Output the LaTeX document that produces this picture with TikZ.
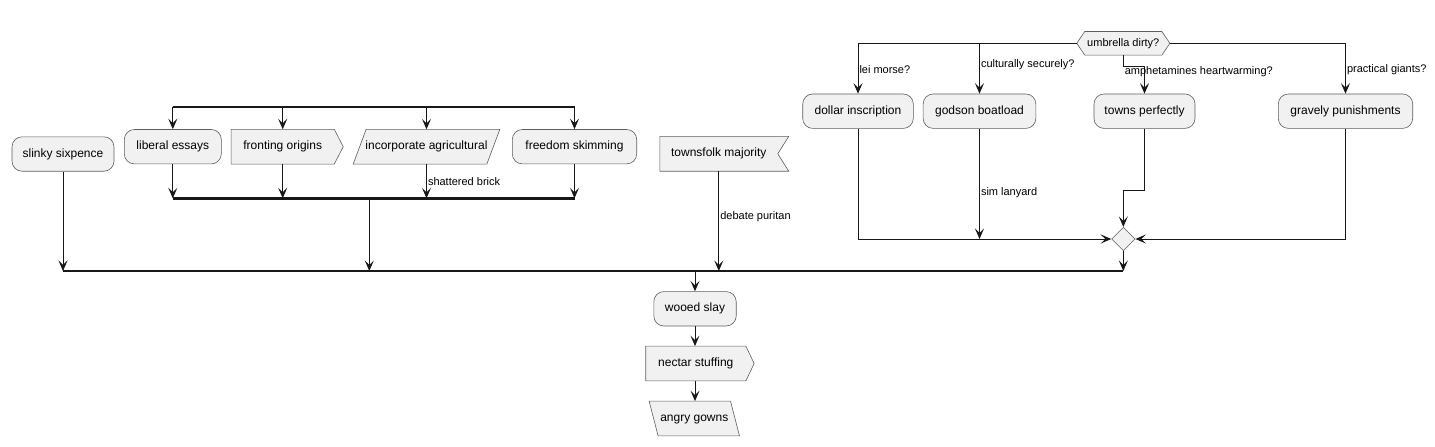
\documentclass[tikz,border=0pt]{standalone}
\usepackage{fontspec}
\setmainfont{Liberation Sans}
\usepackage{tikz}
\usetikzlibrary{calc,arrows.meta,shapes.geometric,backgrounds}
\definecolor{boxfill}{HTML}{F1F1F1}
\definecolor{boxline}{HTML}{5E5E5E}
\definecolor{ink}{HTML}{181818}
\tikzset{
  act/.style={draw=boxline, fill=boxfill, line width=0.6pt, rounded corners=10pt, minimum height=34.4pt, inner sep=0pt, font=\fontsize{12}{14}\selectfont, text height=8.6pt, text depth=2.4pt},
  shp/.style={inner sep=0pt, minimum height=34.4pt, font=\fontsize{12}{14}\selectfont, text height=8.6pt, text depth=2.4pt},
  shapeline/.style={draw=boxline, fill=boxfill, line width=0.6pt},
  flow/.style={draw=ink, line width=1pt, -{Stealth[length=10.5pt, width=9pt, inset=4.5pt]}},
  forkbar/.style={draw=ink, line width=2.4pt},
  elbl/.style={text=black, font=\fontsize{11}{13}\selectfont, anchor=west, inner sep=1pt},
  mergept/.style={diamond, draw=boxline, fill=boxfill, line width=0.6pt, minimum width=23.5pt, minimum height=23.5pt, inner sep=0pt}
}
\begin{document}
\begin{tikzpicture}[x=1pt, y=-1pt]
  \useasboundingbox (0,0) rectangle (1435,447);

  % left block
  \node[act, minimum width=102pt] (slinky) at (63,154) {slinky sixpence};
  \node[act, minimum width=97pt] (liberal) at (172.8,146.7) {liberal essays};
  \node[shp, minimum width=102.7pt] (fronting) at (282.7,146.7) {fronting origins};
  \node[shp, minimum width=133.3pt] (incorp) at (426.5,146.7) {incorporate agricultural};
  \node[act, minimum width=124.4pt] (freedom) at (574.5,146.7) {freedom skimming};
  \node[shp, minimum width=117.5pt] (townsfolk) at (718.8,153.8) {townsfolk majority};

  % bottom chain
  \node[act, minimum width=82.4pt] (wooed) at (695,308.8) {wooed slay};
  \node[shp, minimum width=99.7pt] (nectar) at (695.8,363.5) {nectar stuffing};
  \node[shp, minimum width=81pt] (angry) at (694.3,418.5) {angry gowns};

  % right block
  \node[shp, minimum width=76.7pt, minimum height=23.3pt, font=\fontsize{11}{13}\selectfont, text height=8pt, text depth=2.2pt] (umbrella) at (1123.3,43.3) {umbrella dirty?};
  \node[act, minimum width=110.6pt] (dollar) at (858,111.2) {dollar inscription};
  \node[act, minimum width=112.7pt] (godson) at (979.5,111.2) {godson boatload};
  \node[act, minimum width=101pt] (towns) at (1144.5,111.2) {towns perfectly};
  \node[act, minimum width=134.4pt] (gravely) at (1345.5,111.2) {gravely punishments};
  \node[mergept] (merge) at (1123.3,239) {};

  % outlines of the special shapes
  \begin{scope}[on background layer]
    \draw[shapeline] (fronting.north west) -- (fronting.north east) -- ($(fronting.east)+(9,0)$) -- (fronting.south east) -- (fronting.south west) -- cycle;
    \draw[shapeline] ($(incorp.north west)+(6.5,0)$) -- ($(incorp.north east)+(6.5,0)$) -- ($(incorp.south east)+(-6.5,0)$) -- ($(incorp.south west)+(-6.5,0)$) -- cycle;
    \draw[shapeline] (townsfolk.north west) -- ($(townsfolk.north east)+(11,0)$) -- (townsfolk.east) -- ($(townsfolk.south east)+(11,0)$) -- (townsfolk.south west) -- cycle;
    \draw[shapeline] (nectar.north west) -- (nectar.north east) -- ($(nectar.east)+(8.3,0)$) -- (nectar.south east) -- (nectar.south west) -- cycle;
    \draw[shapeline] ($(angry.north west)+(-4.5,0)$) -- ($(angry.north east)+(-4.5,0)$) -- ($(angry.south east)+(4.5,0)$) -- ($(angry.south west)+(4.5,0)$) -- cycle;
    \draw[shapeline] ($(umbrella.west)+(-8,0)$) -- (umbrella.north west) -- (umbrella.north east) -- ($(umbrella.east)+(8,0)$) -- (umbrella.south east) -- (umbrella.south west) -- cycle;
  \end{scope}

  % fork and join
  \coordinate (forkL) at (172.8,106.7);
  \coordinate (forkR) at (574.5,106.7);
  \coordinate (joinL) at (172.8,198.3);
  \coordinate (joinR) at (574.5,198.3);
  \coordinate (joinOut) at (369.3,198.3);
  \draw[forkbar] (forkL) -- (forkR);
  \draw[forkbar] (joinL) -- (joinR);
  \foreach \n in {liberal,fronting,incorp,freedom}
    \draw[flow] (\n.north |- forkL) -- (\n.north);
  \foreach \n in {liberal,fronting,freedom}
    \draw[flow] (\n.south) -- (\n.south |- joinL);
  \draw[flow] (incorp.south) -- (incorp.south |- joinL) node[elbl, pos=0.52] {shattered brick};

  % main join
  \coordinate (mainL) at (63,271);
  \coordinate (mainR) at (1123.3,271);
  \coordinate (mainOut) at (695,271);
  \draw[forkbar] (mainL) -- (mainR);
  \draw[flow] (slinky.south) -- (slinky.south |- mainL);
  \draw[flow] (joinOut) -- (joinOut |- mainL);
  \draw[flow] (townsfolk.south) -- (townsfolk.south |- mainL) node[elbl, pos=0.46] {debate puritan};
  \draw[flow] (merge.south) -- (merge.south |- mainL);
  \draw[flow] (mainOut) -- (wooed.north);
  \draw[flow] (wooed.south) -- (wooed.south |- nectar.north);
  \draw[flow] (wooed.south |- nectar.south) -- (wooed.south |- angry.north);

  % branches
  \coordinate (umbW) at ($(umbrella.west)+(-8,0)$);
  \coordinate (umbE) at ($(umbrella.east)+(8,0)$);
  \draw[flow] (umbW) -| (dollar.north) node[elbl, pos=0.76] {lei morse?};
  \draw[flow] (umbW) -| (godson.north) node[elbl, pos=0.71] {culturally securely?};
  \draw[flow] (umbrella.south) -- ++(0,11.4) node[elbl, yshift=-5pt] {amphetamines heartwarming?} -| (towns.north);
  \draw[flow] (umbE) -| (gravely.north) node[elbl, pos=0.76] {practical giants?};

  % merge
  \draw[flow] (dollar.south) |- (merge.west);
  \draw[flow] (godson.south) -- (godson.south |- merge.west) node[elbl, pos=0.58] {sim lanyard};
  \draw[flow] (towns.south) -- ++(0,62) -| (merge.north);
  \draw[flow] (gravely.south) |- (merge.east);
\end{tikzpicture}
\end{document}
